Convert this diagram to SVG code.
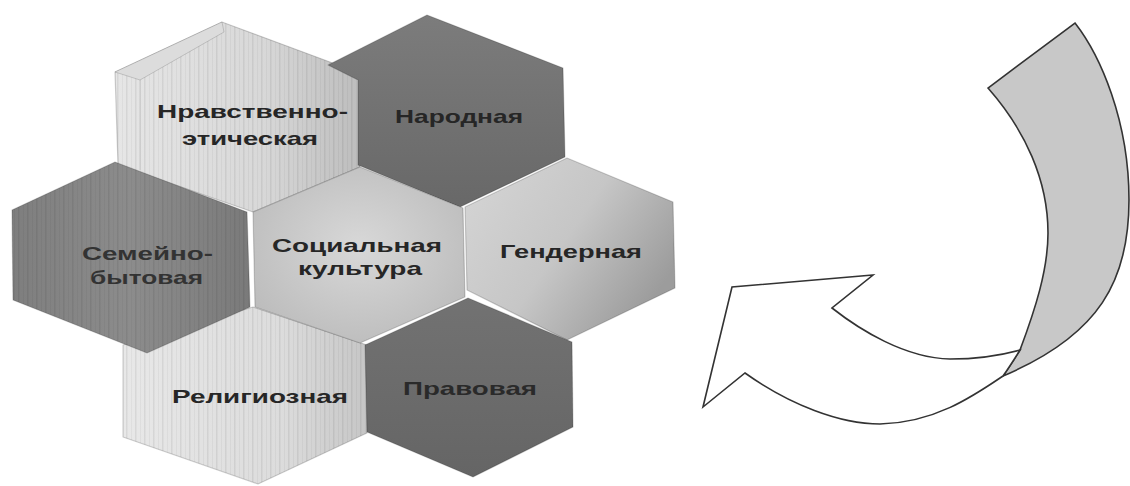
<svg xmlns="http://www.w3.org/2000/svg" width="1130" height="486" viewBox="0 0 1130 486">
<style>
.lbl{font-family:"Liberation Sans",Arial,"DejaVu Sans",sans-serif;font-weight:bold;font-size:19px;fill:#262626}
.soft{fill:#333333}
.hex{stroke:rgba(0,0,0,0.18);stroke-width:1.2;stroke-linejoin:round}
.str{fill:url(#stripes);stroke:none}
.arr{stroke:#333;stroke-width:1.6;stroke-linejoin:miter}
</style>
<defs>
<pattern id="stripes" width="9" height="10" patternUnits="userSpaceOnUse">
<rect x="0" y="0" width="1.5" height="10" fill="rgba(0,0,0,0.07)"/>
<rect x="5" y="0" width="1" height="10" fill="rgba(0,0,0,0.04)"/>
</pattern>
<linearGradient id="gNrav" x1="0" y1="0" x2="1" y2="0">
<stop offset="0" stop-color="#e6e6e6"/><stop offset="0.6" stop-color="#d8d8d8"/><stop offset="1" stop-color="#bdbdbd"/>
</linearGradient>
<linearGradient id="gNar" x1="0" y1="0" x2="0" y2="1">
<stop offset="0" stop-color="#7c7c7c"/><stop offset="1" stop-color="#686868"/>
</linearGradient>
<linearGradient id="gSem" x1="0" y1="0" x2="1" y2="0">
<stop offset="0" stop-color="#7e7e7e"/><stop offset="0.5" stop-color="#8c8c8c"/><stop offset="1" stop-color="#7a7a7a"/>
</linearGradient>
<radialGradient id="gSoc" cx="0.5" cy="0.45" r="0.6">
<stop offset="0" stop-color="#d8d8d8"/><stop offset="1" stop-color="#bcbcbc"/>
</radialGradient>
<linearGradient id="gGen" x1="0" y1="0" x2="1" y2="0.6">
<stop offset="0" stop-color="#d6d6d6"/><stop offset="0.55" stop-color="#c6c6c6"/><stop offset="1" stop-color="#9c9c9c"/>
</linearGradient>
<linearGradient id="gPrav" x1="0" y1="0" x2="0" y2="1">
<stop offset="0" stop-color="#727272"/><stop offset="1" stop-color="#656565"/>
</linearGradient>
<linearGradient id="gRel" x1="0" y1="0" x2="1" y2="0">
<stop offset="0" stop-color="#e8e8e8"/><stop offset="0.65" stop-color="#dcdcdc"/><stop offset="1" stop-color="#c6c6c6"/>
</linearGradient>
</defs>
<rect width="1130" height="486" fill="#ffffff"/>

<g id="node-nravstvenno">
<polygon class="hex" points="222,22 330,62 360,75 360,167 253,212 118,165 115,72" fill="url(#gNrav)"/>
<polygon class="str" points="222,22 330,62 360,75 360,167 253,212 118,165 115,72"/>
<polygon points="115,72 222,22 224,32 140,80" fill="#dcdcdc" stroke="rgba(0,0,0,0.15)" stroke-width="1"/>
<line x1="140" y1="80" x2="140" y2="170" stroke="rgba(0,0,0,0.08)" stroke-width="1.5"/>
<text class="lbl" x="157" y="118" textLength="191" lengthAdjust="spacingAndGlyphs">Нравственно-</text>
<text class="lbl" x="182" y="145" textLength="136" lengthAdjust="spacingAndGlyphs">этическая</text>
</g>

<g id="node-religioznaya">
<polygon class="hex" points="253,307 367,345 367,433 258,484 123,437 123,345" fill="url(#gRel)"/>
<polygon class="str" points="253,307 367,345 367,433 258,484 123,437 123,345"/>
<text class="lbl" x="172" y="403" textLength="176" lengthAdjust="spacingAndGlyphs">Религиозная</text>
</g>

<g id="node-semeyno">
<polygon class="hex" points="115,162 247,212 250,307 147,353 13,300 12,210" fill="url(#gSem)"/>
<polygon class="str" points="115,162 247,212 250,307 147,353 13,300 12,210"/>
<text class="lbl soft" x="82" y="260" textLength="131" lengthAdjust="spacingAndGlyphs">Семейно-</text>
<text class="lbl soft" x="90" y="284" textLength="113" lengthAdjust="spacingAndGlyphs">бытовая</text>
</g>

<g id="node-narodnaya">
<polygon class="hex" points="427,15 563,68 565,157 460,207 358,165 358,80 328,65" fill="url(#gNar)"/>
<text class="lbl" x="395" y="123" textLength="128" lengthAdjust="spacingAndGlyphs">Народная</text>
</g>

<g id="node-socialnaya">
<polygon class="hex" points="360,167 463,208 465,297 360,343 255,307 253,212" fill="url(#gSoc)"/>
<text class="lbl" x="272" y="252" textLength="170" lengthAdjust="spacingAndGlyphs">Социальная</text>
<text class="lbl" x="298" y="275" textLength="124" lengthAdjust="spacingAndGlyphs">культура</text>
</g>

<g id="node-gendernaya">
<polygon class="hex" points="567,158 673,202 675,288 567,340 467,290 465,207" fill="url(#gGen)"/>
<text class="lbl" x="500" y="258" textLength="142" lengthAdjust="spacingAndGlyphs">Гендерная</text>
</g>

<g id="node-pravovaya">
<polygon class="hex" points="468,298 572,342 573,427 473,477 367,432 365,345" fill="url(#gPrav)"/>
<text class="lbl" x="403" y="395" textLength="134" lengthAdjust="spacingAndGlyphs" style="fill:#2a2a2a">Правовая</text>
</g>

<g id="connectors">
<path class="arr" fill="#c8c8c8" d="M1075,23 C1100,55 1129,120 1129,200 C1129,280 1100,335 1003,376 C1010,366 1015,358 1020,350 C1035,310 1048,270 1048,233 C1048,180 1025,130 988,88 Z"/>
<path class="arr" fill="#ffffff" d="M1003,376 C975,395 935,423 880,424 C840,424 790,405 745,373 L703,407 L732,287 L873,275 L832,308 C860,330 905,358 950,359 C975,359 995,357 1020,350 C1015,358 1010,366 1003,376 Z"/>
</g>
</svg>
